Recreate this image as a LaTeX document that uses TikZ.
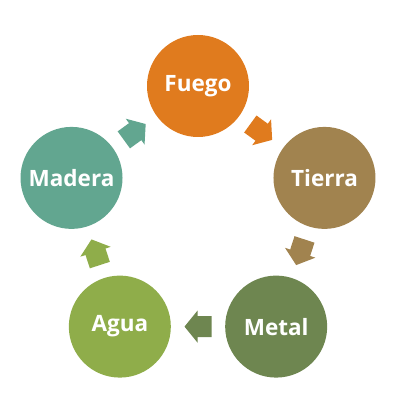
\documentclass[tikz,border=0pt]{standalone}
\usepackage{fontspec}
\setmainfont{Open Sans}
\usetikzlibrary{calc}
\definecolor{cFuego}{HTML}{E07B1E}
\definecolor{cTierra}{HTML}{A1834F}
\definecolor{cMetal}{HTML}{6E8650}
\definecolor{cAgua}{HTML}{8FAD4A}
\definecolor{cMadera}{HTML}{62A690}
\tikzset{
  elem/.style={circle, minimum size=102pt, inner sep=0pt, text=white,
    font=\fontsize{22.5}{26}\selectfont\bfseries},
  blockarrow/.pic={
    \fill (-13.5,-10.5) -- (0.5,-10.5) -- (0.5,-16) -- (13.5,0) -- (0.5,16)
      -- (0.5,10.5) -- (-13.5,10.5) -- cycle;
  }
}
\begin{document}
\begin{tikzpicture}[x=1pt,y=1pt]
\useasboundingbox (0,0) rectangle (400,400);
\coordinate (ctr) at (198,181);
\node[elem, fill=cFuego]  (fuego)  at ($(ctr)+(90:133)$)  {Fuego};
\node[elem, fill=cTierra] (tierra) at ($(ctr)+(18:133)$)  {Tierra};
\node[elem, fill=cMetal]  (metal)  at ($(ctr)+(-54:133)$) {Metal};
\node[elem, fill=cAgua]   (agua)   at ($(ctr)+(234:133)$) {Agua};
\node[elem, fill=cMadera] (madera) at ($(ctr)+(162:133)$) {Madera};
\path ($(fuego)!0.5!(tierra)$)  pic[rotate=-36,  color=cFuego]  {blockarrow};
\path ($(tierra)!0.5!(metal)$)  pic[rotate=-108, color=cTierra] {blockarrow};
\path ($(metal)!0.5!(agua)$)    pic[rotate=180,  color=cMetal]  {blockarrow};
\path ($(agua)!0.5!(madera)$)   pic[rotate=108,  color=cAgua]   {blockarrow};
\path ($(madera)!0.5!(fuego)$)  pic[rotate=36,   color=cMadera] {blockarrow};
\end{tikzpicture}
\end{document}
